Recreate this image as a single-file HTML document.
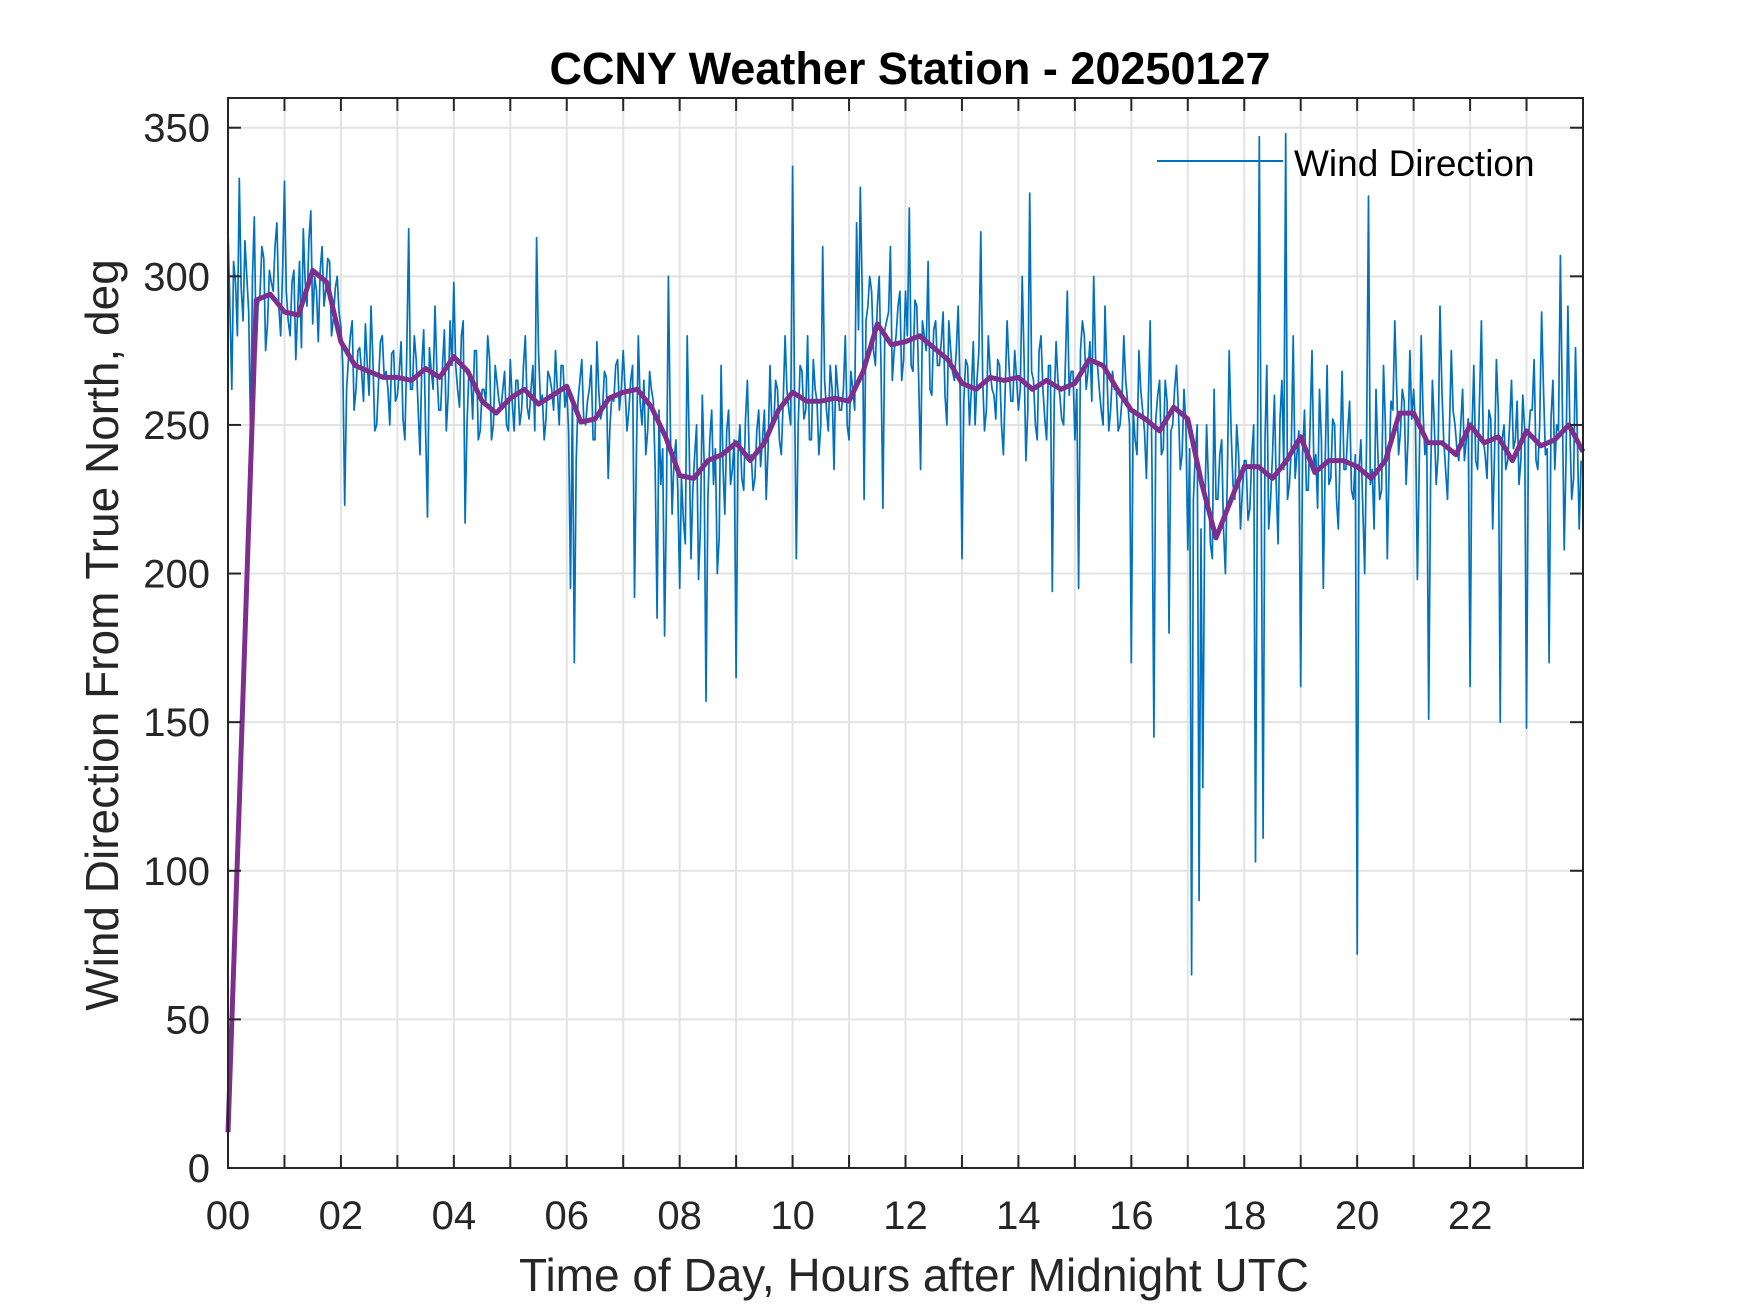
<!DOCTYPE html>
<html><head><meta charset="utf-8"><style>
body{margin:0;background:#fff}
svg{display:block;font-family:"Liberation Sans",Arial,sans-serif}
</style></head><body>
<svg id="chart" width="1750" height="1313" viewBox="0 0 1750 1313" xmlns="http://www.w3.org/2000/svg">
<rect width="1750" height="1313" fill="#fff"/>
<g id="grid"></g>
<g id="series"></g>
<g id="axes"></g>
<text x="910" y="84" text-anchor="middle" font-size="45" font-weight="bold" fill="#000">CCNY Weather Station - 20250127</text>
<text x="914" y="1291" text-anchor="middle" font-size="46" fill="#262626">Time of Day, Hours after Midnight UTC</text>
<text transform="translate(118,635) rotate(-90)" text-anchor="middle" font-size="46" fill="#262626">Wind Direction From True North, deg</text>
<g>
<line x1="1157" y1="161" x2="1283" y2="161" stroke="#0072BD" stroke-width="2"/>
<text x="1294" y="176" font-size="37" fill="#000">Wind Direction</text>
</g>
</svg>
<script>
const windHourly = [
[316,262,298,333,285,300,246,320,290,310,275,302,295,318,280],
[332,285,298,272,305,316,290,322,300,278,310,296,305,286,300],
[283,223,272,285,262,276,258,270,290,248,265,280,268,250,275],
[260,278,245,316,262,272,240,282,219,268,290,255,270,248,285],
[298,262,280,217,268,252,275,248,262,280,245,270,258,262,250],
[272,248,265,255,280,252,270,313,258,245,268,262,275,250,270],
[262,195,170,258,272,250,262,245,278,252,268,232,260,270,255],
[275,248,265,192,280,250,240,268,258,185,230,179,300,220,245],
[195,218,280,205,240,198,260,157,245,230,200,270,220,255,235],
[165,250,228,265,240,232,255,245,225,270,250,262,240,280,255],
[337,205,270,252,280,245,262,240,310,255,270,235,262,255,280],
[245,262,318,330,225,290,295,270,300,222,285,310,275,290,265],
[295,323,268,290,235,280,305,260,285,270,288,250,275,265,290],
[205,272,250,278,265,315,248,280,262,252,270,240,285,258,275],
[255,300,238,328,265,245,280,252,270,194,278,260,250,295,268],
[245,195,285,262,278,300,270,255,290,248,268,262,250,280,258],
[170,245,275,255,232,285,145,260,240,265,180,250,270,235,262],
[208,65,240,90,128,250,210,262,225,245,200,275,230,250,215],
[238,218,240,103,347,111,270,225,260,210,265,348,230,280,240],
[162,255,228,275,240,262,195,270,232,250,215,268,235,258,225],
[72,245,200,327,235,262,225,270,205,258,285,240,262,230,275],
[262,198,280,240,151,265,230,290,245,225,275,250,238,262,245],
[162,270,235,285,240,255,215,272,150,250,238,265,245,230,260],
[148,255,272,235,288,240,170,265,250,307,208,290,225,276,215]
];
const windHourlyMid = [
[290,305,280,296,312,288,300,275,294,306,284,298,310,290,302],
[295,280,302,288,276,298,312,284,295,302,290,306,280,296,288],
[270,262,280,255,275,268,284,260,272,250,278,266,262,274,258],
[268,252,275,262,280,256,270,248,276,262,268,255,282,260,270],
[270,256,285,250,266,275,245,262,258,272,250,264,255,268,248],
[258,265,250,270,256,262,248,275,260,252,266,255,262,270,256],
[248,260,238,265,252,258,270,245,262,255,266,250,258,272,262],
[262,255,270,240,258,265,248,262,235,255,242,226,250,238,228],
[232,210,245,228,250,215,238,225,255,242,212,236,248,230,245],
[240,232,252,238,228,248,236,255,242,250,265,245,258,262,250],
[262,250,268,255,245,272,258,250,265,248,262,270,255,262,250],
[268,255,282,295,285,300,275,290,270,282,288,265,280,295,272],
[280,270,292,265,285,275,262,282,270,278,260,285,268,275,262],
[258,270,262,250,275,265,255,268,260,272,250,262,270,258,266],
[262,272,255,268,250,275,262,245,270,258,265,252,272,260,268],
[262,275,280,268,258,272,262,250,268,255,262,248,258,265,250],
[255,240,262,248,258,235,252,265,242,258,248,262,255,240,250],
[242,225,250,215,220,230,205,225,240,215,232,248,225,240,228],
[238,222,250,235,228,245,215,240,230,252,235,225,242,232,248],
[240,228,250,235,222,245,238,230,252,225,242,235,248,228,240],
[235,222,245,230,215,240,228,250,238,255,262,248,258,245,252],
[250,238,255,245,232,250,240,262,235,248,255,242,250,238,252],
[248,238,258,245,232,252,240,255,245,235,250,242,258,238,248],
[245,255,238,250,262,242,252,235,248,258,240,250,232,245,238]
];
const meanValues = [12,150,292,294,288,287,302,298,278,270,268,266,266,265,269,266,273,268,258,254,259,262,257,260,263,251,252,259,261,262,256,246,233,232,238,240,244,238,244,255,261,258,258,259,258,268,284,277,278,280,276,272,264,262,266,265,266,262,265,262,264,272,270,262,255,252,248,256,252,230,212,224,236,236,232,238,246,234,238,238,236,232,238,254,254,244,244,240,250,244,246,238,248,243,245,250,241];
const xTickLabels = ["00","02","04","06","08","10","12","14","16","18","20","22"];
const yTickValues = [0,50,100,150,200,250,300,350];

const L=228,R=1583,T=98,B=1168,XMAX=24,YMAX=360;
const xs=h=>L+(R-L)*h/XMAX, ys=v=>B-(B-T)*v/YMAX;
const NS="http://www.w3.org/2000/svg";
function mk(tag,attrs,parent){const e=document.createElementNS(NS,tag);for(const k in attrs)e.setAttribute(k,attrs[k]);parent.appendChild(e);return e;}
const grid=document.getElementById('grid'),axes=document.getElementById('axes'),series=document.getElementById('series');
for(let h=1;h<24;h++){const g=mk('line',{x1:xs(h),x2:xs(h),y1:T,y2:B,stroke:'#e3e3e3','stroke-width':2},grid);

}
yTickValues.forEach(v=>{if(v===0)return;const g=mk('line',{x1:L,x2:R,y1:ys(v),y2:ys(v),stroke:'#e3e3e3','stroke-width':2},grid);

});
let pts=[];
windHourly.forEach((row,hi)=>row.forEach((v,i)=>{
  const n=row.length;
  pts.push(xs(hi+i/n).toFixed(1)+','+ys(v).toFixed(1));
  pts.push(xs(hi+(i+0.5)/n).toFixed(1)+','+ys(windHourlyMid[hi][i]).toFixed(1));
}));
const raw=mk('polyline',{points:pts.join(' '),fill:'none',stroke:'#0072BD','stroke-width':1.7,'stroke-linejoin':'round'},series);


const mp=meanValues.map((v,i)=>xs(i*24/(meanValues.length-1)).toFixed(1)+','+ys(v).toFixed(1)).join(' ');
const mean=mk('polyline',{points:mp,fill:'none',stroke:'#7E2F8E','stroke-width':5,'stroke-linejoin':'round'},series);


const box=mk('rect',{x:L,y:T,width:R-L,height:B-T,fill:'none',stroke:'#262626','stroke-width':2},axes);


for(let h=1;h<24;h++){
 mk('line',{x1:xs(h),x2:xs(h),y1:B,y2:B-13,stroke:'#262626','stroke-width':2},axes);
 mk('line',{x1:xs(h),x2:xs(h),y1:T,y2:T+13,stroke:'#262626','stroke-width':2},axes);
}
xTickLabels.forEach((lab,i)=>{const t=mk('text',{x:xs(i*2),y:1229,'text-anchor':'middle','font-size':40,fill:'#262626'},axes);t.textContent=lab;

});
yTickValues.forEach(v=>{
 mk('line',{x1:L,x2:L+13,y1:ys(v),y2:ys(v),stroke:'#262626','stroke-width':2},axes);
 mk('line',{x1:R,x2:R-13,y1:ys(v),y2:ys(v),stroke:'#262626','stroke-width':2},axes);
 const t=mk('text',{x:210,y:ys(v)+14,'text-anchor':'end','font-size':40,fill:'#262626'},axes);t.textContent=v;
 
 
});
</script>
</body></html>
